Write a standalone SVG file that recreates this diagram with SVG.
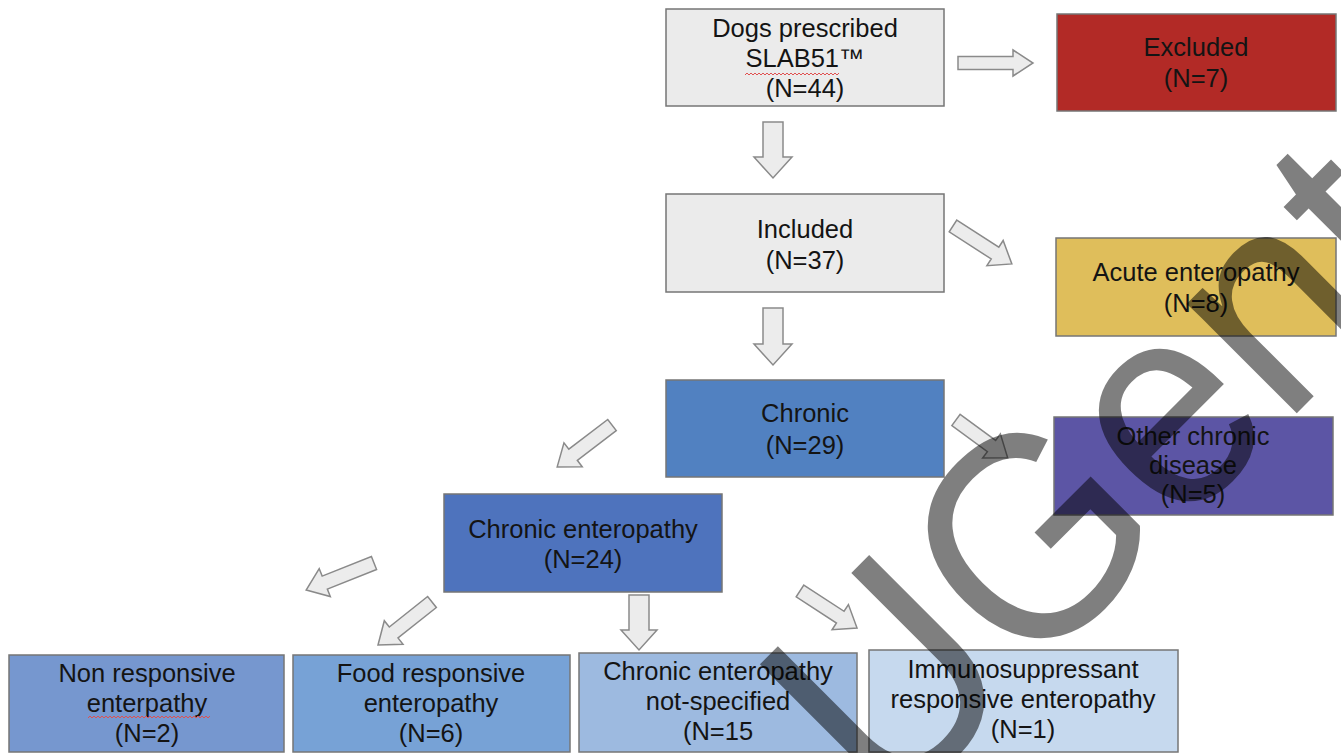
<svg xmlns="http://www.w3.org/2000/svg" width="1341" height="753" viewBox="0 0 1341 753">
<style>
.box{stroke:#767676;stroke-width:1.5}
.t{font-family:"Liberation Sans",Arial,sans-serif;font-size:25.5px;fill:#141414;text-anchor:middle}
.arr{fill:#ececec;stroke:#8a8a8a;stroke-width:1.5;stroke-linejoin:miter}
.sq{fill:none;stroke:#e05050;stroke-width:1}
.wm{font-family:"Liberation Sans",Arial,sans-serif;font-size:272px;fill:#000;fill-opacity:0.5}
</style>
<rect width="1341" height="753" fill="#ffffff"/>
<g id="connectors">
<path class="arr" transform="translate(958,63)" d="M0,-6.5 L55,-6.5 L55,-13 L75,0 L55,13 L55,6.5 L0,6.5 Z"/>
<path class="arr" transform="translate(773,122) rotate(90)" d="M0,-10 L35,-10 L35,-19 L56,0 L35,19 L35,10 L0,10 Z"/>
<path class="arr" transform="translate(773,308) rotate(90)" d="M0,-10 L36,-10 L36,-19 L57,0 L36,19 L36,10 L0,10 Z"/>
<path class="arr" transform="translate(953,226) rotate(32.8)" d="M0,-7 L50,-7 L50,-15 L70,0 L50,15 L50,7 L0,7 Z"/>
<path class="arr" transform="translate(956,420) rotate(36.2)" d="M0,-7 L44,-7 L44,-15 L64,0 L44,15 L44,7 L0,7 Z"/>
<path class="arr" transform="translate(612,425) rotate(142.6)" d="M0,-7 L49,-7 L49,-15 L69,0 L49,15 L49,7 L0,7 Z"/>
<path class="arr" transform="translate(374,563) rotate(158.3)" d="M0,-7 L53,-7 L53,-15 L73,0 L53,15 L53,7 L0,7 Z"/>
<path class="arr" transform="translate(432,602) rotate(141.5)" d="M0,-7 L49,-7 L49,-15 L69,0 L49,15 L49,7 L0,7 Z"/>
<path class="arr" transform="translate(639,595) rotate(90)" d="M0,-10 L35,-10 L35,-18 L55,0 L35,18 L35,10 L0,10 Z"/>
<path class="arr" transform="translate(800,591) rotate(33)" d="M0,-7 L48,-7 L48,-15 L68,0 L48,15 L48,7 L0,7 Z"/>
</g>
<g id="dogs">
<rect class="box" x="666" y="9" width="278" height="97" fill="#ebebeb"/>
<text class="t" x="805" y="36.5">Dogs prescribed</text>
<text class="t" x="805" y="66.5">SLAB51™</text>
<text class="t" x="805" y="96.5">(N=44)</text>
<path class="sq" d="M745,75 l2,-2 l2,2 l2,-2 l2,2 l2,-2 l2,2 l2,-2 l2,2 l2,-2 l2,2 l2,-2 l2,2 l2,-2 l2,2 l2,-2 l2,2 l2,-2 l2,2 l2,-2 l2,2 l2,-2 l2,2 l2,-2 l2,2 l2,-2 l2,2 l2,-2 l2,2 l2,-2 l2,2 l2,-2 l2,2 l2,-2 l2,2 l2,-2 l2,2 l2,-2 l2,2 l2,-2 l2,2 l2,-2 l2,2 l2,-2 l2,2 l2,-2 l2,2 l2,-2"/>
</g>
<g id="excluded">
<rect class="box" x="1057" y="14" width="279" height="97" fill="#b22a26"/>
<text class="t" x="1196" y="56">Excluded</text>
<text class="t" x="1196" y="87">(N=7)</text>
</g>
<g id="included">
<rect class="box" x="666" y="194" width="278" height="98" fill="#ebebeb"/>
<text class="t" x="805" y="238">Included</text>
<text class="t" x="805" y="269">(N=37)</text>
</g>
<g id="acute">
<rect class="box" x="1056" y="238" width="280" height="98" fill="#dfbe5b"/>
<text class="t" x="1196" y="281">Acute enteropathy</text>
<text class="t" x="1196" y="312">(N=8)</text>
</g>
<g id="chronic">
<rect class="box" x="666" y="380" width="278" height="97" fill="#5181c1"/>
<text class="t" x="805" y="422">Chronic</text>
<text class="t" x="805" y="454">(N=29)</text>
</g>
<g id="other">
<rect class="box" x="1054" y="417" width="279" height="98" fill="#5c55a5"/>
<text class="t" x="1193" y="445">Other chronic</text>
<text class="t" x="1193" y="474">disease</text>
<text class="t" x="1193" y="503">(N=5)</text>
</g>
<g id="ce">
<rect class="box" x="444" y="494" width="278" height="98" fill="#4e73bd"/>
<text class="t" x="583" y="538">Chronic enteropathy</text>
<text class="t" x="583" y="568">(N=24)</text>
</g>
<g id="nonresp">
<rect class="box" x="9" y="655" width="275" height="97" fill="#7697cf"/>
<text class="t" x="147" y="682">Non responsive</text>
<text class="t" x="147" y="712">enterpathy</text>
<text class="t" x="147" y="742">(N=2)</text>
<path class="sq" d="M88,718 l2,-2 l2,2 l2,-2 l2,2 l2,-2 l2,2 l2,-2 l2,2 l2,-2 l2,2 l2,-2 l2,2 l2,-2 l2,2 l2,-2 l2,2 l2,-2 l2,2 l2,-2 l2,2 l2,-2 l2,2 l2,-2 l2,2 l2,-2 l2,2 l2,-2 l2,2 l2,-2 l2,2 l2,-2 l2,2 l2,-2 l2,2 l2,-2 l2,2 l2,-2 l2,2 l2,-2 l2,2 l2,-2 l2,2 l2,-2 l2,2 l2,-2 l2,2 l2,-2 l2,2 l2,-2 l2,2 l2,-2 l2,2 l2,-2 l2,2 l2,-2 l2,2 l2,-2 l2,2 l2,-2 l2,2 l2,-2"/>
</g>
<g id="foodresp">
<rect class="box" x="293" y="655" width="277" height="97" fill="#77a2d6"/>
<text class="t" x="431" y="682">Food responsive</text>
<text class="t" x="431" y="712">enteropathy</text>
<text class="t" x="431" y="742">(N=6)</text>
</g>
<g id="cens">
<rect class="box" x="579" y="653" width="278" height="99" fill="#9dbae0"/>
<text class="t" x="718" y="680">Chronic enteropathy</text>
<text class="t" x="718" y="710">not-specified</text>
<text class="t" x="718" y="740">(N=15</text>
</g>
<g id="immuno">
<rect class="box" x="869" y="650" width="309" height="102" fill="#c6d9ee"/>
<text class="t" x="1023" y="678">Immunosuppressant</text>
<text class="t" x="1023" y="708">responsive enteropathy</text>
<text class="t" x="1023" y="738">(N=1)</text>
</g>
<text class="wm" x="0" y="0" transform="translate(888 822) rotate(-45) scale(1 1.08)">UGent</text>
</svg>
